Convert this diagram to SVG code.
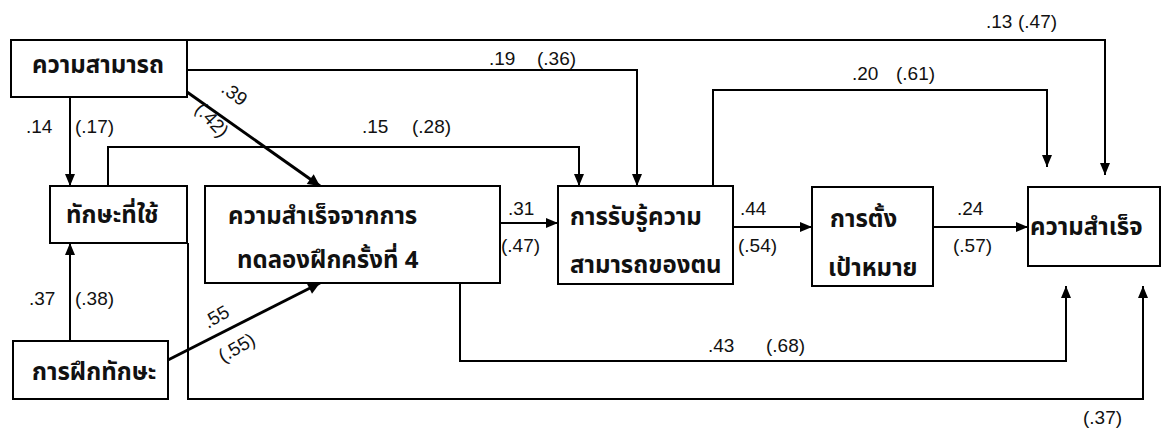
<svg xmlns="http://www.w3.org/2000/svg" width="1165" height="429" viewBox="0 0 1165 429">
<defs>
<marker id="ah" viewBox="0 0 12 10" refX="12" refY="5" markerWidth="12" markerHeight="10" markerUnits="userSpaceOnUse" orient="auto">
<path d="M0,0 L12,5 L0,10 z" fill="#000"/>
</marker>
<marker id="ahb" viewBox="0 0 12 12" refX="12" refY="6" markerWidth="14" markerHeight="12" markerUnits="userSpaceOnUse" orient="auto">
<path d="M0,0 L12,6 L0,12 z" fill="#000"/>
</marker>
</defs>
<style>
.box{fill:#fff;stroke:#000;stroke-width:2}
.th{font-family:"Noto Sans Thai","Noto Sans","DejaVu Sans",sans-serif;font-size:24px;font-weight:bold;fill:#111}
.lb{font-family:"Liberation Sans",Arial,sans-serif;font-size:19px;fill:#111}
.c{fill:none;stroke:#000;stroke-width:2}
.cb{fill:none;stroke:#000;stroke-width:3}
</style>
<rect width="1165" height="429" fill="#fff"/>
<g id="connectors">
<path class="c" d="M187,40 H1105 V175" marker-end="url(#ah)"/>
<path class="c" d="M187,70 H637 V186" marker-end="url(#ah)"/>
<path class="c" d="M70,97 V186" marker-end="url(#ah)"/>
<path class="c" d="M108,186 V147 H579 V186" marker-end="url(#ah)"/>
<path class="cb" d="M187,92 L320,186" marker-end="url(#ahb)"/>
<path class="c" d="M70,341 V243" marker-end="url(#ah)"/>
<path class="cb" d="M168,360 L320,283" marker-end="url(#ahb)"/>
<path class="c" d="M188,243 V399 H1143 V286" marker-end="url(#ah)"/>
<path class="c" d="M460,283 V361 H1066 V286" marker-end="url(#ah)"/>
<path class="c" d="M500,223 H558" marker-end="url(#ah)"/>
<path class="c" d="M713,186 V90 H1047 V167" marker-end="url(#ah)"/>
<path class="c" d="M733,227 H812" marker-end="url(#ah)"/>
<path class="c" d="M933,227 H1028" marker-end="url(#ah)"/>
<g class="lb">
<text x="986" y="28">.13</text><text x="1018" y="28">(.47)</text>
<text x="489" y="65">.19</text><text x="537" y="65">(.36)</text>
<text x="852" y="80">.20</text><text x="896" y="80">(.61)</text>
<text x="362" y="133">.15</text><text x="412" y="133">(.28)</text>
<text x="26" y="133">.14</text>
<text x="75" y="133">(.17)</text>
<text x="29" y="305">.37</text>
<text x="75" y="305">(.38)</text>
<text x="508" y="215">.31</text>
<text x="501" y="252">(.47)</text>
<text x="740" y="215">.44</text>
<text x="738" y="252">(.54)</text>
<text x="957" y="215">.24</text>
<text x="953" y="252">(.57)</text>
<text x="708" y="352">.43</text><text x="766" y="352">(.68)</text>
<text x="1083" y="424">(.37)</text>
<text transform="translate(220,91) rotate(37)">.39</text>
<text transform="translate(194,110) rotate(47)">(.42)</text>
<text transform="translate(208,329) rotate(-30)">.55</text>
<text transform="translate(223,363) rotate(-30)">(.55)</text>
</g>
</g>
<g id="n-ability"><rect class="box" x="11" y="40" width="176" height="57"/><text class="th" x="32" y="73">ความสามารถ</text></g>
<g id="n-skill-used"><rect class="box" x="50" y="186" width="137" height="57"/><text class="th" x="66" y="223">ทักษะที่ใช้</text></g>
<g id="n-trial"><rect class="box" x="205" y="186" width="295" height="97"/><text class="th" x="228" y="224">ความสำเร็จจากการ</text><text class="th" x="237" y="268">ทดลองฝึกครั้งที่ 4</text></g>
<g id="n-training"><rect class="box" x="13" y="341" width="155" height="58"/><text class="th" x="32" y="380">การฝึกทักษะ</text></g>
<g id="n-efficacy"><rect class="box" x="558" y="186" width="175" height="98"/><text class="th" x="570" y="225">การรับรู้ความ</text><text class="th" x="570" y="273">สามารถของตน</text></g>
<g id="n-goal"><rect class="box" x="812" y="187" width="121" height="99"/><text class="th" x="830" y="227">การตั้ง</text><text class="th" x="828" y="276">เป้าหมาย</text></g>
<g id="n-success"><rect class="box" x="1028" y="187" width="132" height="79"/><text class="th" x="1030" y="235">ความสำเร็จ</text></g>
</svg>
